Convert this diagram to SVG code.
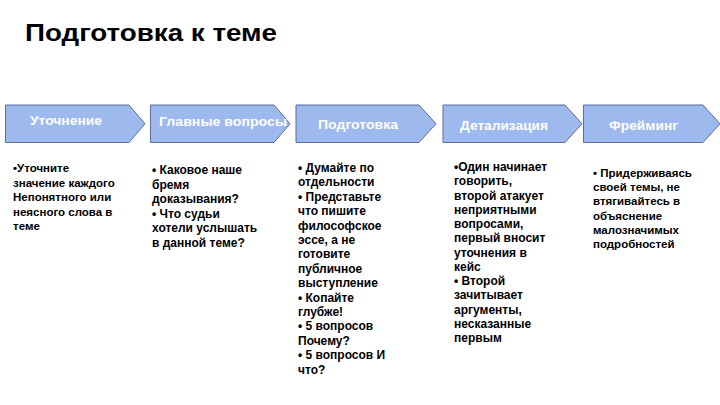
<svg xmlns="http://www.w3.org/2000/svg" width="720" height="405" viewBox="0 0 720 405">
<style>
.title{font-family:"Liberation Sans",Arial,sans-serif;font-weight:bold;font-size:24px;fill:#000}
.chev{fill:#9DB9EE;stroke:#5A6E98;stroke-width:1}
.lbl{font-family:"Liberation Sans",Arial,sans-serif;font-weight:bold;font-size:13px;fill:#fff}
.body{font-family:"Liberation Sans",Arial,sans-serif;font-weight:bold;font-size:12px;fill:#000}
.small{font-size:11.5px}
</style>
<rect width="720" height="405" fill="#fff"/>
<text class="title" x="25" y="41" textLength="252" lengthAdjust="spacingAndGlyphs">Подготовка к теме</text>

<g id="step1">
<path class="chev" d="M5.5,105 H129 L145,123.75 L129,142.5 H5.5 Z"/>
<text class="lbl" x="30" y="125" textLength="72" lengthAdjust="spacingAndGlyphs">Уточнение</text>
</g>
<g id="step2">
<path class="chev" d="M150.5,105 H274 L290,123.75 L274,142.5 H150.5 Z"/>
<text class="lbl" x="159" y="126" textLength="128" lengthAdjust="spacingAndGlyphs">Главные вопросы</text>
</g>
<g id="step3">
<path class="chev" d="M296,105 H419 L436,123.75 L419,142.5 H296 Z"/>
<text class="lbl" x="318" y="129" textLength="80" lengthAdjust="spacingAndGlyphs">Подготовка</text>
</g>
<g id="step4">
<path class="chev" d="M443,105 H565 L582,123.75 L565,142.5 H443 Z"/>
<text class="lbl" x="460" y="130" textLength="88" lengthAdjust="spacingAndGlyphs">Детализация</text>
</g>
<g id="step5">
<path class="chev" d="M583.5,105 H703 L720,123.75 L703,142.5 H583.5 Z"/>
<text class="lbl" x="609" y="130" textLength="69" lengthAdjust="spacingAndGlyphs">Фрейминг</text>
</g>

<g id="text1">
<text class="body small" x="13" y="172">•Уточните
<tspan x="13" dy="14.5">значение каждого</tspan>
<tspan x="13" dy="14.5">Непонятного или</tspan>
<tspan x="13" dy="14.5">неясного слова в</tspan>
<tspan x="13" dy="14.5">теме</tspan></text>
</g>
<g id="text2">
<text class="body" x="152" y="174">• Каковое наше
<tspan x="152" dy="14.5">бремя</tspan>
<tspan x="152" dy="14.5">доказывания?</tspan>
<tspan x="152" dy="14.5">• Что судьи</tspan>
<tspan x="152" dy="14.5">хотели услышать</tspan>
<tspan x="152" dy="14.5">в данной теме?</tspan></text>
</g>
<g id="text3">
<text class="body" x="298" y="172">• Думайте по
<tspan x="298" dy="14.4">отдельности</tspan>
<tspan x="298" dy="14.4">• Представьте</tspan>
<tspan x="298" dy="14.4">что пишите</tspan>
<tspan x="298" dy="14.4">философское</tspan>
<tspan x="298" dy="14.4">эссе, а не</tspan>
<tspan x="298" dy="14.4">готовите</tspan>
<tspan x="298" dy="14.4">публичное</tspan>
<tspan x="298" dy="14.4">выступление</tspan>
<tspan x="298" dy="14.4">• Копайте</tspan>
<tspan x="298" dy="14.4">глубже!</tspan>
<tspan x="298" dy="14.4">• 5 вопросов</tspan>
<tspan x="298" dy="14.4">Почему?</tspan>
<tspan x="298" dy="14.4">• 5 вопросов И</tspan>
<tspan x="298" dy="14.4">что?</tspan></text>
</g>
<g id="text4">
<text class="body" x="454" y="171">•Один начинает
<tspan x="454" dy="14.25">говорить,</tspan>
<tspan x="454" dy="14.25">второй атакует</tspan>
<tspan x="454" dy="14.25">неприятными</tspan>
<tspan x="454" dy="14.25">вопросами,</tspan>
<tspan x="454" dy="14.25">первый вносит</tspan>
<tspan x="454" dy="14.25">уточнения в</tspan>
<tspan x="454" dy="14.25">кейс</tspan>
<tspan x="454" dy="14.25">• Второй</tspan>
<tspan x="454" dy="14.25">зачитывает</tspan>
<tspan x="454" dy="14.25">аргументы,</tspan>
<tspan x="454" dy="14.25">несказанные</tspan>
<tspan x="454" dy="14.25">первым</tspan></text>
</g>
<g id="text5">
<text class="body small" x="593" y="177">• Придерживаясь
<tspan x="593" dy="14.2">своей темы, не</tspan>
<tspan x="593" dy="14.2">втягивайтесь в</tspan>
<tspan x="593" dy="14.2">объяснение</tspan>
<tspan x="593" dy="14.2">малозначимых</tspan>
<tspan x="593" dy="14.2">подробностей</tspan></text>
</g>
</svg>
